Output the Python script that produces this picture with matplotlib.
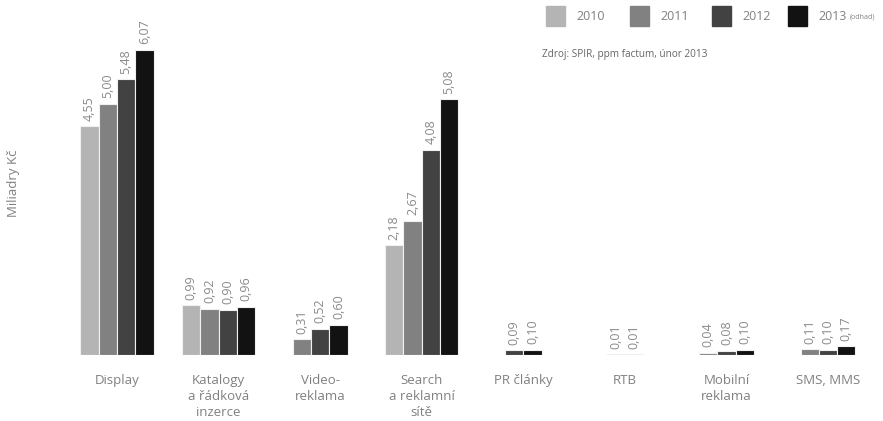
import matplotlib.pyplot as plt
from matplotlib.patches import Rectangle
import numpy as np

categories = ['Display', 'Katalogy\na řádková\ninzerce', 'Video-\nreklama',
              'Search\na reklamní\nsítě', 'PR články', 'RTB',
              'Mobilní\nreklama', 'SMS, MMS']
years = ['2010', '2011', '2012', '2013']
nan = np.nan
v2010 = [4.55, 0.99, nan, 2.18, nan, nan, nan, nan]
v2011 = [5.00, 0.92, 0.31, 2.67, nan, nan, 0.04, 0.11]
v2012 = [5.48, 0.90, 0.52, 4.08, 0.09, 0.01, 0.08, 0.10]
v2013 = [6.07, 0.96, 0.60, 5.08, 0.10, 0.01, 0.10, 0.17]

colors = ['#b4b4b4', '#818181', '#424242', '#121212']
txt_col = '#8a8a8a'
plt.rcParams['font.family'] = ['Open Sans', 'DejaVu Sans']

fig = plt.figure(figsize=(8.83, 4.21), dpi=100)
ax = fig.add_axes([0.07, 0.157, 0.9, 0.836])

series = np.array([v2010, v2011, v2012, v2013])
x = np.arange(len(categories))
w = 0.18

for i in range(len(categories)):
    present = [k for k in range(4) if not np.isnan(series[k, i])]
    n = len(present)
    for j, k in enumerate(present):
        xpos = x[i] + (j - (n - 1) / 2) * w
        val = series[k, i]
        ax.bar(xpos, val, width=w, color=colors[k], edgecolor='#f0f0f0',
               linewidth=0.8)
        ax.annotate(f'{val:.2f}'.replace('.', ','), (xpos, val),
                    xytext=(0, 4), textcoords='offset points',
                    rotation=90, ha='center', va='bottom',
                    fontsize=9, color=txt_col)

ax.set_xlim(-0.543, 7.28)
ax.set_ylim(0, 7)
ax.set_xticks(x)
ax.set_xticklabels(categories, fontsize=9.5, color='#808080', linespacing=1.3)
ax.tick_params(axis='x', length=0, pad=14)
ax.set_yticks([])
for s in ax.spines.values():
    s.set_visible(False)

fig.text(0.015, 0.565, 'Miliadry Kč', rotation=90, ha='center', va='center',
         fontsize=9.5, color='#808080')

# legend
lx = [546, 630, 712, 788]
for k in range(4):
    fig.add_artist(Rectangle((lx[k] / 883, 1 - 26 / 421), 19 / 883, 20 / 421,
                             transform=fig.transFigure, color=colors[k]))
    fig.text((lx[k] + 30) / 883, 1 - 16 / 421, years[k], ha='left',
             va='center', fontsize=9, color='#808080')
fig.text(875 / 883, 1 - 17 / 421, '(odhad)', ha='right', va='center',
         fontsize=5, color='#808080')
fig.text(542 / 883, 1 - 55 / 421, 'Zdroj: SPIR, ppm factum, únor 2013',
         ha='left', va='center', fontsize=7.2, color='#666666')

fig.savefig('out.png', dpi=100)
